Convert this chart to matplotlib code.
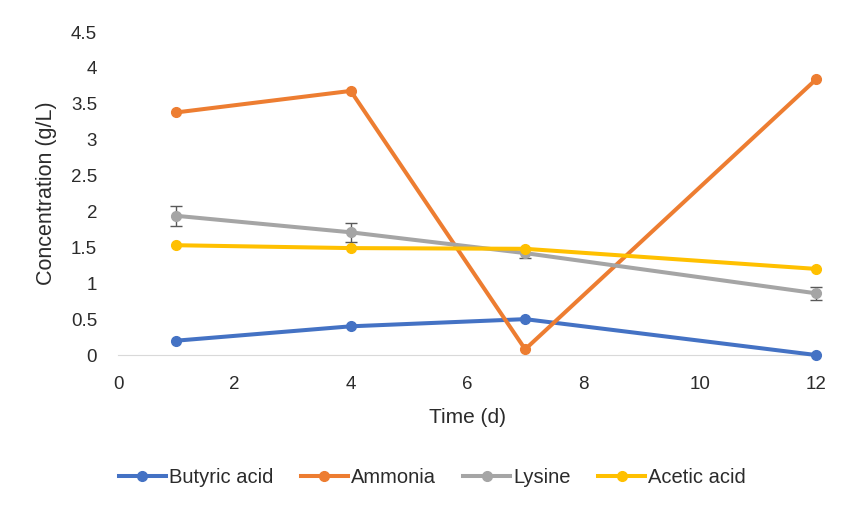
import matplotlib
matplotlib.use("Agg")
import matplotlib.pyplot as plt
from matplotlib.lines import Line2D

plt.rcParams['font.family'] = ['Liberation Sans', 'DejaVu Sans']

time_d = [1, 4, 7, 12]
butyric = [0.20, 0.40, 0.50, 0.00]
ammonia = [3.38, 3.68, 0.08, 3.84]
lysine = [1.94, 1.71, 1.42, 0.86]
lysine_err = [0.14, 0.13, 0.07, 0.09]
acetic = [1.53, 1.49, 1.48, 1.20]

names = ['Butyric acid', 'Ammonia', 'Lysine', 'Acetic acid']
colors = ['#4472C4', '#ED7D31', '#A5A5A5', '#FFC000']
txt = '#2b2b2b'

fig = plt.figure(figsize=(8.43, 5.09), dpi=100)
ax = fig.add_axes([0.14, 0.3025, 0.828, 0.6345])

series = [butyric, ammonia, lysine, acetic]
handles = []
for i, (name, vals, c) in enumerate(zip(names, series, colors)):
    if name == 'Lysine':
        # error bars only on lysine
        ax.errorbar(time_d, vals, yerr=lysine_err, fmt='none', ecolor='#595959',
                    elinewidth=1, capsize=4, capthick=1, zorder=3 + i, clip_on=False)
    ax.plot(time_d, vals, color=c, marker='o', ms=7, lw=2.9, zorder=3 + i, clip_on=False)
    handles.append(Line2D([], [], color=c, marker='o', ms=7, lw=2.9, label=name))

ax.set_xlim(0, 12)
ax.set_ylim(0, 4.5)
ax.set_xticks(range(0, 13, 2))
ax.set_yticks([i * 0.5 for i in range(10)])
ax.set_yticklabels(['0', '0.5', '1', '1.5', '2', '2.5', '3', '3.5', '4', '4.5'])
ax.tick_params(length=0, labelsize=13.5, colors=txt)
ax.tick_params(axis='x', pad=15)
ax.tick_params(axis='y', pad=15)
for s in ['top', 'right', 'left']:
    ax.spines[s].set_visible(False)
ax.spines['bottom'].set_color('#D9D9D9')
ax.set_xlabel('Time (d)', fontsize=15, color=txt, labelpad=11)
ax.set_ylabel('Concentration (g/L)', fontsize=15.5, color=txt, labelpad=10)

fig.legend(handles=handles, loc='center', bbox_to_anchor=(0.513, 0.061), ncol=4,
           frameon=False, fontsize=14.5, handlelength=2.35, handletextpad=0.15,
           columnspacing=1.35, labelcolor=txt)

fig.savefig('out.png', dpi=100)
